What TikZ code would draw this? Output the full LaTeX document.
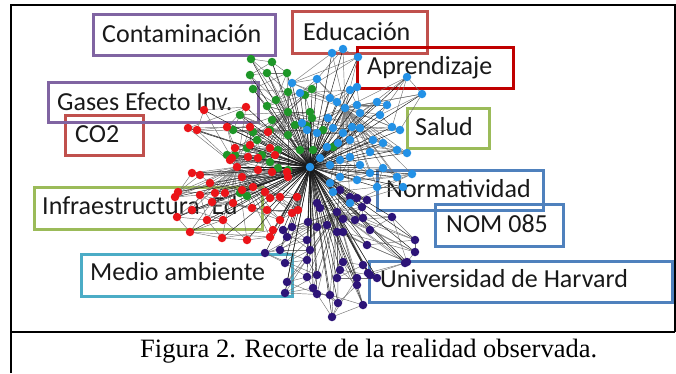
\documentclass[tikz,border=0pt]{standalone}
\usepackage{fontspec}
\setmainfont{Liberation Serif}
\newfontfamily\labfont{Carlito}
\definecolor{cPurple}{RGB}{128,100,162}
\definecolor{cRose}{RGB}{192,80,77}
\definecolor{cDkRed}{RGB}{192,0,0}
\definecolor{cOlive}{RGB}{155,187,89}
\definecolor{cTeal}{RGB}{75,172,198}
\definecolor{cBlue}{RGB}{79,129,189}
\definecolor{dGreen}{RGB}{30,150,40}
\definecolor{dRed}{RGB}{235,20,25}
\definecolor{dBlue}{RGB}{35,145,230}
\definecolor{dPurple}{RGB}{45,20,120}
\begin{document}
\begin{tikzpicture}[x=1pt,y=-1pt,
  frame/.style={draw=black,line width=1.2pt},
  box/.style={draw=#1,line width=3pt,inner sep=0pt,anchor=north west},
  lab/.style={font=\labfont\fontsize{26}{30}\selectfont,inner sep=0pt,anchor=base west,text=black!90},
  captext/.style={font=\fontsize{26.5}{30}\selectfont,inner sep=0pt,anchor=base west,text=black},
  edge/.style={draw=black!55,line width=0.45pt},
  hubedge/.style={draw=black!90,line width=0.45pt},
  dot/.style={circle,fill=#1,inner sep=0pt,minimum size=8.5pt}]
\useasboundingbox (0,0) rectangle (676,373);
% frame
\coordinate (tl) at (11,5);
\coordinate (tr) at (675,5);
\coordinate (ml) at (11,332);
\coordinate (mr) at (675,332);
\coordinate (bl) at (11,373);
\draw[frame] (bl) -- (tl) -- (tr) -- (mr);
\draw[frame] (ml) -- (mr);
% boxes
\node[box=cPurple,minimum width=182pt,minimum height=41pt] (bCont) at (92,13) {};
\node[box=cRose,minimum width=135pt,minimum height=42pt] (bEduc) at (291,10) {};
\node[box=cDkRed,minimum width=156pt,minimum height=41pt] (bApr) at (356,46) {};
\node[box=cRose,minimum width=78pt,minimum height=40pt] (bCO) at (64,114) {};
\node[box=cPurple,minimum width=210pt,minimum height=40pt] (bGas) at (47,81) {};
\node[box=cOlive,minimum width=82pt,minimum height=40pt] (bSal) at (406,107) {};
\node[box=cOlive,minimum width=228pt,minimum height=42pt] (bInf) at (33,186) {};
\node[box=cTeal,minimum width=211pt,minimum height=42pt] (bMed) at (80,253) {};
\node[box=cBlue,minimum width=166pt,minimum height=40pt] (bNor) at (376,169) {};
\node[box=cBlue,minimum width=128pt,minimum height=42pt] (bNom) at (434,203) {};
\node[box=cBlue,minimum width=303pt,minimum height=41pt] (bHar) at (368,260) {};
% labels
\node[lab] (tCont) at (102,42) {Contaminación};
\node[lab] (tEduc) at (303,40) {Educación};
\node[lab] (tApr) at (367,74) {Aprendizaje};
\node[lab] (tGas) at (57,110) {Gases Efecto Inv.};
\node[lab] (tCO) at (75,142) {CO2};
\node[lab] (tSal) at (415,135) {Salud};
\node[lab] (tInf) at (42,214) {Infraestructura\ \ Ed};
\node[lab] (tMed) at (90,280) {Medio ambiente};
\node[lab] (tNor) at (386,197) {Normatividad};
\node[lab] (tNom) at (446,232) {NOM 085};
\node[lab] (tHar) at (380,287) {Universidad de Harvard};
\node[captext] (caption) at (140,357) {Figura 2. Recorte de la realidad observada.};
% network coordinates
\coordinate (hub) at (310,167);
\foreach \x/\y [count=\i] in {251/59,272/62,250/75,267/73,287/73,253/89,288/92,276/100,267/106,305/95,312/89,288/112,310/112,272/120,312/118,307/126,295/125,288/135,270/130,253/132,240/115,233/130,323/130,313/150,333/147,300/150,257/140,278/150,247/148,262/155,227/155,235/155,270/162,278/168,288/170,240/193,247/196}
  {\coordinate (G\i) at (\x,\y); \xdef\NumG{\i}}
\foreach \x/\y [count=\i] in {332/53,343/49,358/57,292/83,317/79,300/93,330/98,337/102,350/90,357/87,345/108,357/105,360/113,377/102,387/105,407/77,422/94,380/115,392/127,400/130,302/123,307/130,317/133,328/118,333/128,343/133,352/127,360/128,373/140,383/143,370/152,397/150,407/153,350/140,338/143,327/147,320/158,330/165,340/160,350/157,360/165,370/173,340/177,330/183,357/180,383/168,397/177,412/174,377/187,403/187,350/203,333/192}
  {\coordinate (B\i) at (\x,\y); \xdef\NumB{\i}}
\foreach \x/\y [count=\i] in {204/110,246/107,188/128,197/130,227/127,250/127,268/132,235/148,250/145,270/148,232/158,248/157,258/158,275/155,237/167,230/160,258/170,272/172,287/172,288/177,242/177,192/173,200/175,178/192,175/197,210/183,215/193,225/193,242/190,253/187,265/192,270/198,280/197,297/197,298/210,292/213,280/220,267/210,252/208,233/203,212/202,200/195,192/210,177/217,207/220,223/220,190/232,222/238,247/240,270/237,273/230}
  {\coordinate (R\i) at (\x,\y); \xdef\NumR{\i}}
\foreach \x/\y [count=\i] in {337/212,317/203,320/208,340/190,350/197,357/198,367/200,362/207,343/219,355/220,363/218,370/230,392/217,415/240,415/252,407/262,367/245,343/232,337/232,327/225,317/227,308/222,292/227,283/230,287/237,307/240,310/250,280/250,265/253,285/263,307/260,317/275,307/277,287/282,285/293,313/288,317/294,330/295,338/303,332/317,363/305,357/285,357/278,343/262,340/270,337/278,363/265,370/275,377/278,368/273,405/263}
  {\coordinate (P\i) at (\x,\y); \xdef\NumP{\i}}
% local edges
\foreach \c/\n/\h in {G/\NumG/12,B/\NumB/11,R/\NumR/15,P/\NumP/1} {
  \pgfmathtruncatemacro\lastA{\n-1}
  \pgfmathtruncatemacro\lastB{\n-3}
  \foreach \i [evaluate=\i as \j using int(\i+1)] in {1,...,\lastA} {\draw[edge] (\c\i) -- (\c\j);}
  \foreach \i [evaluate=\i as \j using int(\i+3)] in {1,...,\lastB} {\draw[edge] (\c\i) -- (\c\j);}
  \foreach \i in {1,...,\n} {\draw[edge] (\c\h) -- (\c\i);}
}
% hub edges
\foreach \c/\n in {G/\NumG,B/\NumB,R/\NumR,P/\NumP} {
  \foreach \i in {1,...,\n} {\draw[hubedge] (hub) -- (\c\i);}
}
% dots
\foreach \i in {1,...,\NumG} {\node[dot=dGreen] (Gd\i) at (G\i) {};}
\foreach \i in {1,...,\NumR} {\node[dot=dRed] (Rd\i) at (R\i) {};}
\foreach \i in {1,...,\NumP} {\node[dot=dPurple] (Pd\i) at (P\i) {};}
\foreach \i in {1,...,\NumB} {\node[dot=dBlue] (Bd\i) at (B\i) {};}
\node[dot=dBlue] (hubd) at (hub) {};
\end{tikzpicture}
\end{document}
